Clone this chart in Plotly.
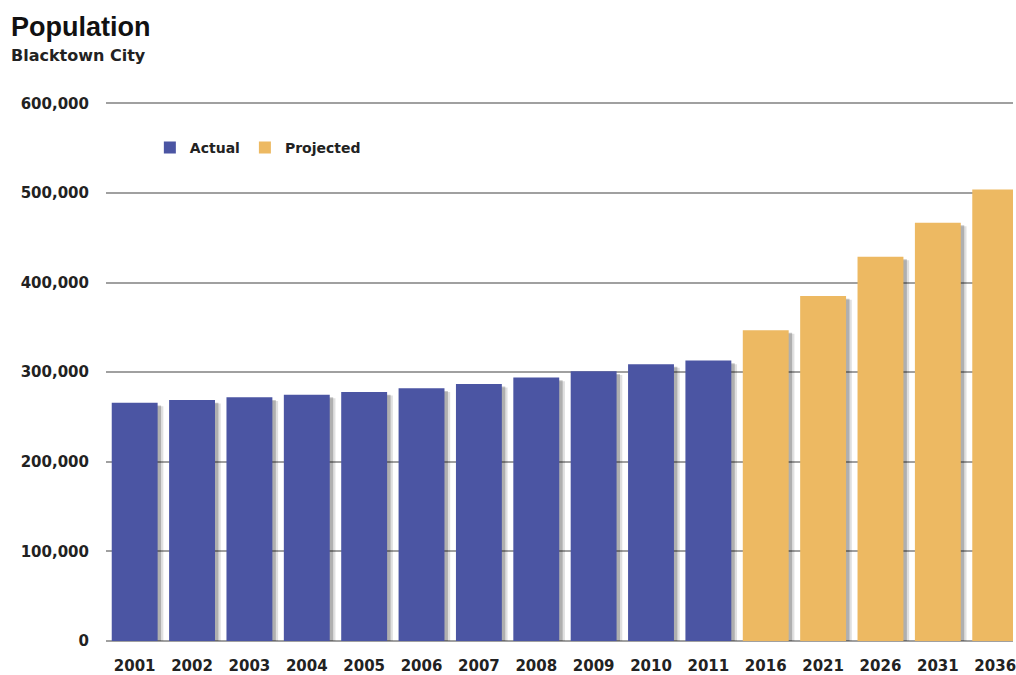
import plotly.graph_objects as go

years = ["2001", "2002", "2003", "2004", "2005", "2006", "2007", "2008", "2009",
         "2010", "2011", "2016", "2021", "2026", "2031", "2036"]
actual_years = years[:11]
actual_values = [266000, 269000, 272000, 275000, 278000, 282000, 287000, 294000,
                 301000, 309000, 313000]
projected_years = years[11:]
projected_values = [347000, 385000, 429000, 467000, 504000]

y_ticks = [0, 100000, 200000, 300000, 400000, 500000, 600000]
y_tick_labels = ["0", "100,000", "200,000", "300,000", "400,000", "500,000", "600,000"]

BLUE = "#4b55a3"
ORANGE = "#edb962"
FONT = "DejaVu Sans"
TITLE_FONT = "Liberation Sans"

# plot area geometry (pixels)
L, R, T, B = 106, 0, 99, 33
PW = 1016 - L - R
PH = 675 - T - B

fig = go.Figure()

# soft drop shadows to the right of bars
for yrs, vals in ((actual_years, actual_values), (projected_years, projected_values)):
    fig.add_trace(go.Bar(x=yrs, y=[v - 4000 for v in vals], width=0.8, offset=-0.4 + 0.1,
                         marker=dict(color="rgba(0,0,0,0.12)", line=dict(width=0)),
                         showlegend=False, hoverinfo="skip"))
    fig.add_trace(go.Bar(x=yrs, y=[v - 3000 for v in vals], width=0.8, offset=-0.4 + 0.06,
                         marker=dict(color="rgba(0,0,0,0.22)", line=dict(width=0)),
                         showlegend=False, hoverinfo="skip"))

fig.add_trace(go.Bar(name="Actual", x=actual_years, y=actual_values, width=0.8, offset=-0.4,
                     marker=dict(color=BLUE, line=dict(width=0))))
fig.add_trace(go.Bar(name="Projected", x=projected_years, y=projected_values, width=0.8,
                     offset=-0.4, marker=dict(color=ORANGE, line=dict(width=0))))

fig.update_layout(
    width=1016, height=675,
    margin=dict(l=L, r=R, t=T, b=B),
    paper_bgcolor="white", plot_bgcolor="white",
    barmode="overlay",
    font=dict(family=FONT, size=14, color="#222222"),
    showlegend=True,
    legend=dict(orientation="h", x=(150 - L) / PW, y=(675 - B - 148) / PH,
                xanchor="left", yanchor="middle",
                font=dict(family=FONT, size=14, color="#222222", weight="bold"),
                itemwidth=30, bgcolor="rgba(0,0,0,0)", traceorder="normal"),
)
fig.add_annotation(text="<b>Population</b>", xref="paper", yref="paper",
                   x=(9 - L) / PW, y=(675 - B - 27) / PH, xanchor="left",
                   yanchor="middle", showarrow=False,
                   font=dict(family=TITLE_FONT, size=27, color="#111111"))
fig.add_annotation(text="<b>Blacktown City</b>", xref="paper", yref="paper",
                   x=(9 - L) / PW, y=(675 - B - 55) / PH, xanchor="left",
                   yanchor="middle", showarrow=False,
                   font=dict(family=FONT, size=16, color="#222222"))

fig.update_xaxes(type="category", categoryorder="array", categoryarray=years,
                 range=[-0.5, 15.31], showgrid=False, showline=False, zeroline=False,
                 ticks="", tickfont=dict(family=FONT, size=15, color="#222222", weight="bold"),
                 ticklabelstandoff=14)
fig.update_yaxes(range=[0, 605000], tickvals=y_ticks, ticktext=y_tick_labels,
                 showgrid=True, gridcolor="#a0a0a0", gridwidth=2, zeroline=True,
                 zerolinecolor="#a0a0a0", zerolinewidth=2, showline=False, ticks="",
                 tickfont=dict(family=FONT, size=15, color="#222222", weight="bold"),
                 ticklabelstandoff=16)

fig.write_html("out.html")
